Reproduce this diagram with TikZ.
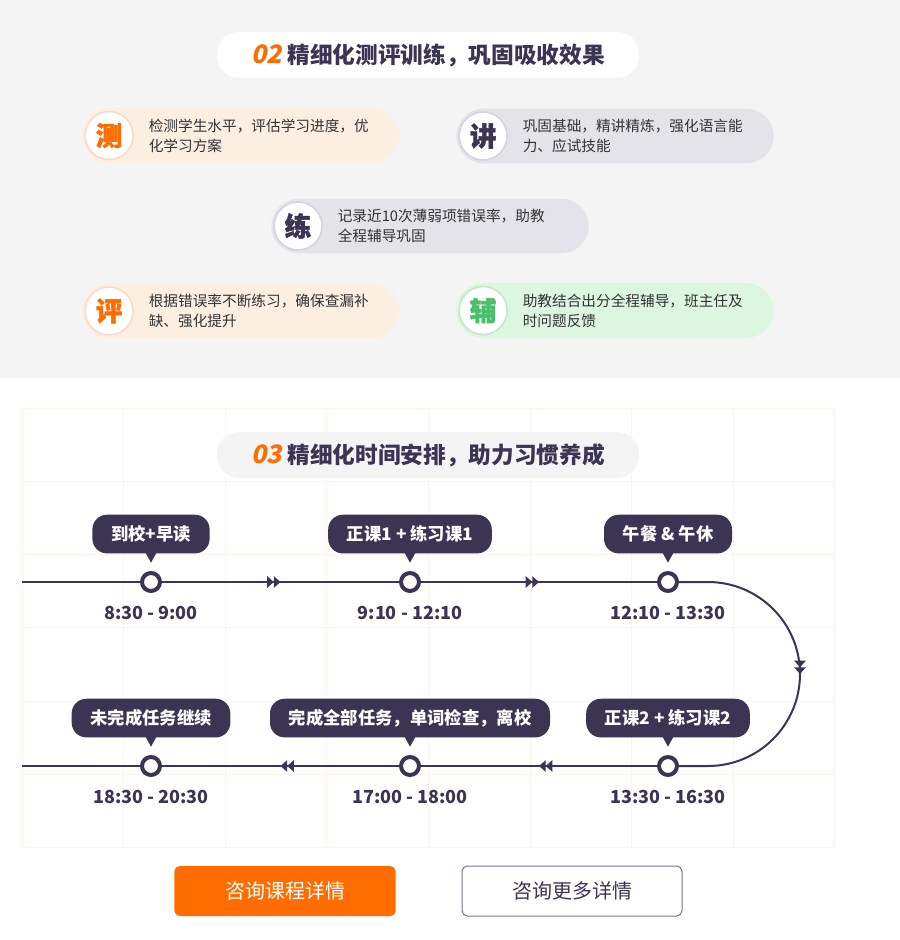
\documentclass[tikz,border=0pt]{standalone}
\usepackage{fontspec}
\setmainfont{Noto Sans CJK SC}
\newfontfamily\slant{Noto Sans CJK SC}[FakeSlant=0.2]
\newfontfamily\heavy{Noto Sans CJK SC}[FakeBold=1.5]
\usetikzlibrary{positioning,arrows.meta,decorations.markings}
\definecolor{ink}{HTML}{3B3452}
\definecolor{tangerine}{HTML}{FF6C00}
\definecolor{leaf}{HTML}{4CBF6B}
\definecolor{txt}{HTML}{333333}
\definecolor{panel}{HTML}{F4F4F4}
\definecolor{peach}{HTML}{FDEEE2}
\definecolor{peachline}{HTML}{F8DCC9}
\definecolor{lilac}{HTML}{E4E3EA}
\definecolor{lilacline}{HTML}{D5D3DD}
\definecolor{mint}{HTML}{DCF6DF}
\definecolor{mintline}{HTML}{C2EBC9}
\definecolor{gridc}{HTML}{FEF4EC}
\definecolor{frame}{HTML}{7A7690}
\begin{document}
\begin{tikzpicture}[x=0.75pt, y=-0.75pt,
  head/.style = {rounded corners=17pt, minimum width=317pt, minimum height=34.5pt, text=ink, font=\fontsize{17}{20}\selectfont\bfseries},
  card/.style = {rounded corners=20.5pt, minimum width=238pt, minimum height=41pt},
  icon/.style = {circle, fill=white, draw, line width=1.2pt, minimum size=36pt, inner sep=0pt, font=\heavy\bfseries\fontsize{20}{20}\selectfont},
  desc/.style = {align=left, text=txt, inner sep=0pt, font=\fontsize{11}{15}\selectfont},
  dot/.style = {circle, draw=ink, fill=white, line width=3pt, minimum size=13.5pt, inner sep=0pt},
  tip/.style = {fill=ink, text=white, rounded corners=11pt, minimum height=29pt, inner xsep=14pt, inner ysep=0pt, font=\fontsize{13}{15}\selectfont\bfseries},
  hour/.style = {text=ink, inner sep=0pt, font=\fontsize{13.5}{15}\selectfont\bfseries},
  link/.style = {draw=ink, line width=1.5pt},
  mid/.style = {postaction={decorate, decoration={markings, mark=at position 0.5 with {\arrow[ink]{Triangle[length=5pt,width=8.5pt]Triangle[length=5pt,width=8.5pt]}}}}},
  btn/.style = {rounded corners=4pt, minimum width=166pt, minimum height=37.5pt, font=\fontsize{15}{18}\selectfont}]
\useasboundingbox (0,0) rectangle (900,940);
\fill[panel] (0,0) rectangle (900,378);
\foreach \gx in {0,...,8}
  \draw[gridc, line width=0.75pt] ({22+101.6*\gx},408) -- ({22+101.6*\gx},848);
\foreach \gy in {0,...,6}
  \draw[gridc, line width=0.75pt] (22,{408+73.33*\gy}) -- (835,{408+73.33*\gy});

% section 02
\node[head, fill=white] (h02) at (428,55) {{\slant\fontsize{19}{20}\selectfont\color{tangerine}02} 精细化测评训练，巩固吸收效果};
\node[card, fill=peach] (c1) at (241,135.5) {};
\node[icon, draw=peachline, text=tangerine] (i1) at ([xshift=20.25pt]c1.west) {测};
\node[desc, right=11pt of i1] (d1) {检测学生水平，评估学习进度，优\\化学习方案};
\node[card, fill=lilac] (c2) at (615,136) {};
\node[icon, draw=lilacline, text=ink] (i2) at ([xshift=20.25pt]c2.west) {讲};
\node[desc, right=11pt of i2] (d2) {巩固基础，精讲精炼，强化语言能\\力、应试技能};
\node[card, fill=lilac] (c3) at (430,226) {};
\node[icon, draw=lilacline, text=ink] (i3) at ([xshift=20.25pt]c3.west) {练};
\node[desc, right=11pt of i3] (d3) {记录近10次薄弱项错误率，助教\\全程辅导巩固};
\node[card, fill=peach] (c4) at (241,311) {};
\node[icon, draw=peachline, text=tangerine] (i4) at ([xshift=20.25pt]c4.west) {评};
\node[desc, right=11pt of i4] (d4) {根据错误率不断练习，确保查漏补\\缺、强化提升};
\node[card, fill=mint] (c5) at (615,310.5) {};
\node[icon, draw=mintline, text=leaf] (i5) at ([xshift=20.25pt]c5.west) {辅};
\node[desc, right=11pt of i5] (d5) {助教结合出分全程辅导，班主任及\\时问题反馈};

% section 03
\node[head, fill=panel] (h03) at (428,455) {{\slant\fontsize{19}{20}\selectfont\color{tangerine}03} 精细化时间安排，助力习惯养成};
\node[dot] (t1) at (151,582) {};
\node[dot] (t2) at (410,582) {};
\node[dot] (t3) at (668,582) {};
\node[dot] (t4) at (668,766) {};
\node[dot] (t5) at (410,766) {};
\node[dot] (t6) at (151,766) {};
\coordinate (s1) at (22,582);
\coordinate (s2) at (22,766);
\coordinate (k1) at (800,582);
\coordinate (k2) at (800,766);
\draw[link] (s1) -- (t1);
\draw[link, mid] (t1) -- (t2);
\draw[link, mid] (t2) -- (t3);
\draw[link, mid, rounded corners=69pt] (t3) -- (k1) -- (k2) -- (t4);
\draw[link, mid] (t4) -- (t5);
\draw[link, mid] (t5) -- (t6);
\draw[link] (t6) -- (s2);

\node[tip, above=13pt of t1] (l1) {到校+早读};
\node[tip, above=13pt of t2] (l2) {正课1 + 练习课1};
\node[tip, above=13pt of t3] (l3) {午餐 \& 午休};
\node[tip, above=13pt of t4] (l4) {正课2 + 练习课2};
\node[tip, above=13pt of t5] (l5) {完成全部任务，单词检查，离校};
\node[tip, above=13pt of t6] (l6) {未完成任务继续};
\foreach \n in {1,...,6}
  \fill[ink] (l\n.south) ++(-5.5,-1) -- ++(11,0) -- ++(-5.5,10) -- cycle;

\node[hour, below=10pt of t1] (m1) {8:30 - 9:00};
\node[hour, below=10pt of t2] (m2) {9:10 - 12:10};
\node[hour, below=10pt of t3] (m3) {12:10 - 13:30};
\node[hour, below=10pt of t4] (m4) {13:30 - 16:30};
\node[hour, below=10pt of t5] (m5) {17:00 - 18:00};
\node[hour, below=10pt of t6] (m6) {18:30 - 20:30};

\node[btn, fill=tangerine, text=white] (b1) at (285,891) {咨询课程详情};
\node[btn, draw=frame, line width=0.75pt, fill=white, text=ink, minimum width=165pt] (b2) at (572,891) {咨询更多详情};
\end{tikzpicture}
\end{document}
